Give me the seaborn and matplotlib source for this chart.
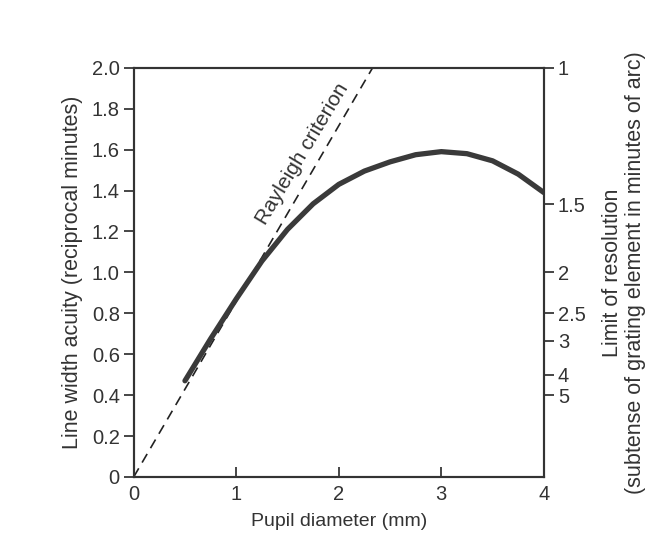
import numpy as np
import pandas as pd
import matplotlib
matplotlib.use("Agg")
import matplotlib.pyplot as plt
import seaborn as sns

# data
pupil_mm = [0.5, 0.75, 1.0, 1.25, 1.5, 1.75, 2.0, 2.25, 2.5, 2.75, 3.0, 3.25, 3.5, 3.75, 4.0]
acuity = [0.47, 0.675, 0.87, 1.055, 1.21, 1.335, 1.43, 1.495, 1.54, 1.575, 1.59, 1.58, 1.545, 1.48, 1.39]
rayleigh_x = [0.0, 2.33]
rayleigh_y = [0.0, 2.0]
limit_labels = ["1", "1.5", "2", "2.5", "3", "4", "5"]
limit_values = [1, 1.5, 2, 2.5, 3, 4, 5]
left_ticks = [0, 0.2, 0.4, 0.6, 0.8, 1.0, 1.2, 1.4, 1.6, 1.8, 2.0]
left_labels = ["0", "0.2", "0.4", "0.6", "0.8", "1.0", "1.2", "1.4", "1.6", "1.8", "2.0"]

sns.set_style("ticks")
plt.rcParams['font.family'] = ['Liberation Sans', 'DejaVu Sans']
plt.rcParams['font.size'] = 14
txt = '#333333'

fig = plt.figure(figsize=(6.49, 5.42), dpi=100)
ax = fig.add_axes([0.206, 0.12, 0.632, 0.755])

curve = pd.DataFrame({'d': pupil_mm, 'a': acuity})
ray = pd.DataFrame({'d': rayleigh_x, 'a': rayleigh_y})

sns.lineplot(data=ray, x='d', y='a', ax=ax, color='#222222', lw=1.2,
             linestyle=(0, (6, 4)))
sns.lineplot(data=curve, x='d', y='a', ax=ax, color='#3a3a3a', lw=3.8)

ax.set_xlim(0, 4)
ax.set_ylim(0, 2.0)
ax.set_xticks([0, 1, 2, 3, 4])
ax.set_xticklabels(["0", "1", "2", "3", "4"], fontsize=14.5, color=txt)
ax.set_yticks(left_ticks)
ax.set_yticklabels(left_labels, fontsize=14.5, color=txt)
ax.tick_params(axis='x', direction='in', length=7, width=1.2, pad=6)
ax.tick_params(axis='y', direction='out', length=7, width=1.2, pad=3)
ax.set_xlabel("Pupil diameter (mm)", fontsize=14, color=txt, labelpad=6)
ax.set_ylabel("Line width acuity (reciprocal minutes)", fontsize=15.5,
              color=txt, labelpad=6)
for s in ax.spines.values():
    s.set_linewidth(1.5)
    s.set_color(txt)
    s.set_visible(True)

ax.text(1.65, 1.58, "Rayleigh criterion", rotation=59, ha='center',
        va='center', fontsize=15, color=txt, rotation_mode='anchor')

ax2 = ax.twinx()
ax2.set_ylim(0, 2.0)
ax2.set_yticks([2.0 / v for v in limit_values])
ax2.set_yticklabels(limit_labels, fontsize=14.5, color=txt)
ax2.tick_params(axis='y', direction='out', length=7, width=1.2, pad=3)
ax2.set_ylabel("Limit of resolution\n(subtense of grating element in minutes of arc)",
               fontsize=15.5, color=txt, labelpad=12, linespacing=1.1)
for s in ax2.spines.values():
    s.set_linewidth(1.5)
    s.set_color(txt)

fig.savefig("out.png", dpi=100)
